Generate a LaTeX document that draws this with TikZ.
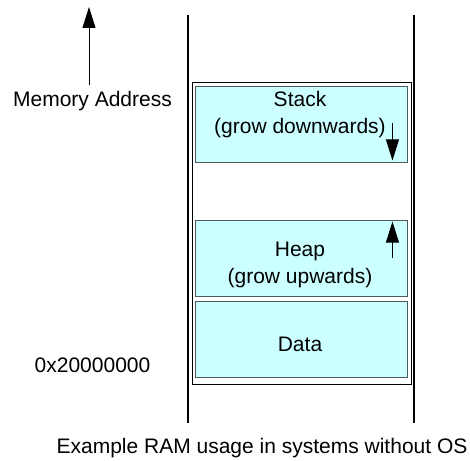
\documentclass[tikz,border=0pt]{standalone}
\usepackage{fontspec}
\setmainfont{Liberation Sans}
\usetikzlibrary{arrows.meta,calc}
\definecolor{segfill}{HTML}{CCFFFF}
\definecolor{segedge}{HTML}{4F5A5A}

\begin{document}
\begin{tikzpicture}[x=1pt, y=-1pt,
    segment/.style={draw=segedge, fill=segfill, line width=0.9pt, minimum width=212pt, minimum height=76pt, inner sep=0pt},
    txt/.style={font=\fontsize{21}{27}\selectfont, align=center, anchor=base, inner sep=0pt},
    growarrow/.style={-{Triangle[length=21pt,width=13pt]}, line width=0.9pt}]
    \useasboundingbox (0,0) rectangle (470,460);
    % address range lines
    \coordinate (lt) at (188,15);
    \coordinate (lb) at (188,423);
    \coordinate (rt) at (414,15);
    \coordinate (rb) at (414,423);
    \draw[line width=1.2pt] (lt) -- (lb);
    \draw[line width=1.2pt] (rt) -- (rb);
    % RAM block
    \node[draw, line width=1pt, fill=white, minimum width=219pt, minimum height=302pt, inner sep=0pt] (ram) at (301.5,233) {};
    \node[segment] (stack) at (301,124) {};
    \node[segment] (heap) at (301,258) {};
    \node[segment] (data) at (301,339) {};
    \node[txt] (stacktxt) at (300,133) {Stack\\(grow downwards)};
    \node[txt] (heaptxt) at (300,283) {Heap\\(grow upwards)};
    \node[txt] (datatxt) at (300,351) {Data};
    \draw[growarrow] ([xshift=-15pt, yshift=39pt]stack.south east) -- ([xshift=-15pt, yshift=2pt]stack.south east);
    \draw[growarrow] ([xshift=-15pt, yshift=-38pt]heap.north east) -- ([xshift=-15pt, yshift=-2pt]heap.north east);
    % address labels
    \node[txt] (addr) at (92.5,106) {Memory Address};
    \node[txt] (base) at (92.5,372) {0x20000000};
    \coordinate (mtip) at (89,7);
    \draw[growarrow] ($(addr.north -| mtip)+(0,-6)$) -- (mtip);
    \node[txt] (caption) at (262,453) {Example RAM usage in systems without OS};
\end{tikzpicture}
\end{document}
